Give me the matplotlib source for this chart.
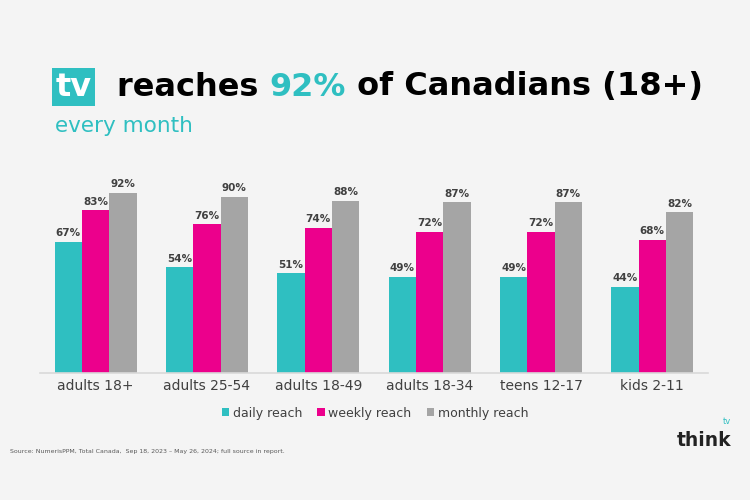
import matplotlib.pyplot as plt
import numpy as np

groups = ['adults 18+', 'adults 25-54', 'adults 18-49', 'adults 18-34', 'teens 12-17', 'kids 2-11']
daily = [67, 54, 51, 49, 49, 44]
weekly = [83, 76, 74, 72, 72, 68]
monthly = [92, 90, 88, 87, 87, 82]
series_names = ['daily reach', 'weekly reach', 'monthly reach']

TEAL = '#2fbfc1'
PINK = '#ec008c'
GREY = '#a5a5a5'
BG = '#f4f4f4'

fig = plt.figure(figsize=(7.5, 5), dpi=100, facecolor=BG)
ax = fig.add_axes([0.0533, 0.254, 0.8907, 0.392], facecolor=BG)

x = np.arange(len(groups))
w = 0.245
for off, vals, col, name in zip([-w, 0, w], [daily, weekly, monthly], [TEAL, PINK, GREY], series_names):
    bars = ax.bar(x + off, vals, width=w, color=col, label=name)
    for b, v in zip(bars, vals):
        ax.text(b.get_x() + b.get_width() / 2, v + 1.8, f'{v}%', ha='center', va='bottom',
                fontsize=7.5, fontweight='bold', color='#404040')

ax.set_xlim(-0.5, len(groups) - 0.5)
ax.set_ylim(0, 100)
ax.set_yticks([])
ax.set_xticks(x)
ax.set_xticklabels(groups, fontsize=10, color='#404040')
ax.tick_params(axis='x', length=0, pad=4)
for s in ['top', 'right', 'left']:
    ax.spines[s].set_visible(False)
ax.spines['bottom'].set_color('#d9d9d9')
ax.spines['bottom'].set_linewidth(1.2)

leg = fig.legend(loc='center', bbox_to_anchor=(0.5, 0.174), ncol=3, frameon=False,
                 fontsize=9, handlelength=0.6, handleheight=0.6, handletextpad=0.3,
                 columnspacing=1.2)
for t in leg.get_texts():
    t.set_color('#404040')

# title built from pieces
fig.canvas.draw()
r = fig.canvas.get_renderer()
tsize = 23
tv = fig.text(0.074, 0.826, 'tv', fontsize=tsize, fontweight='bold', color='white', va='center',
              bbox=dict(boxstyle='square,pad=0.12', fc=TEAL, ec='none'))
xpos = 0.156
for txt, col in [('reaches ', 'black'), ('92%', TEAL), (' of Canadians (18+)', 'black')]:
    t = fig.text(xpos, 0.826, txt, fontsize=tsize, fontweight='bold', color=col, va='center')
    bb = t.get_window_extent(r)
    xpos += bb.width / fig.bbox.width

fig.text(0.073, 0.748, 'every month', fontsize=15.5, color=TEAL, va='center')

fig.text(0.013, 0.097, 'Source: NumerisPPM, Total Canada,  Sep 18, 2023 \u2013 May 26, 2024; full source in report.',
         fontsize=4.5, color='#595959', va='center')

# logo
fig.text(0.902, 0.12, 'think', fontsize=13.5, fontweight='bold', color='#222222', va='center')
fig.text(0.964, 0.158, 'tv', fontsize=6, color=TEAL, va='center')

fig.savefig('out.png', dpi=100, facecolor=BG)
